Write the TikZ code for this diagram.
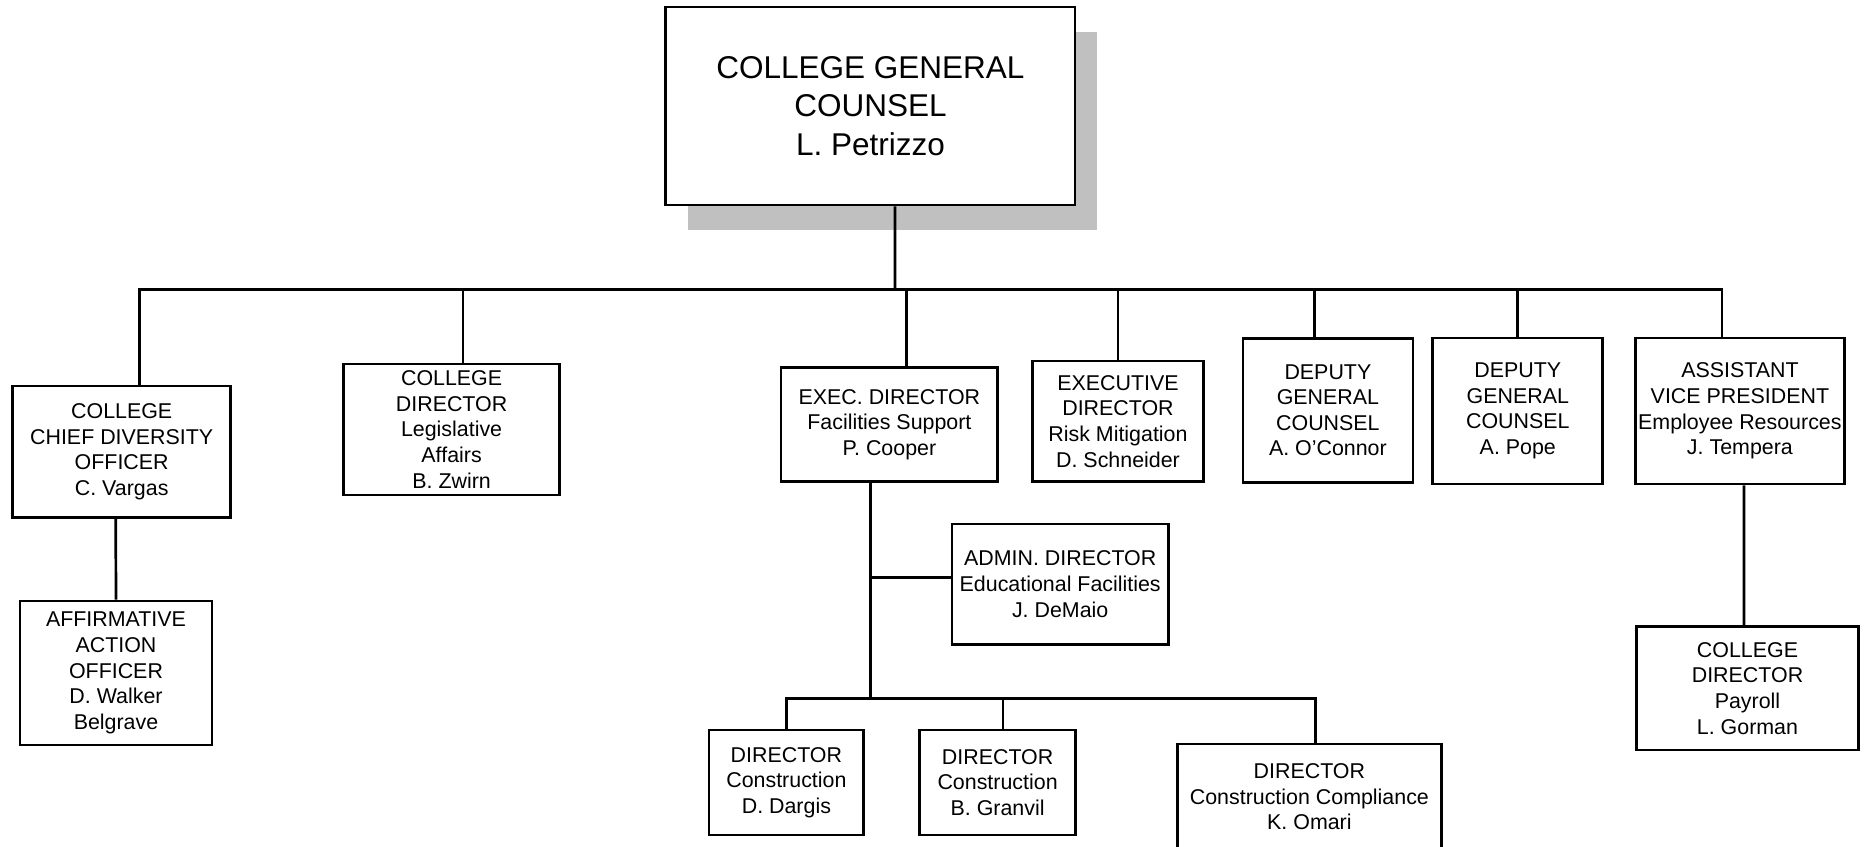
\documentclass[tikz,border=0pt]{standalone}
\usepackage{fontspec}
\setmainfont{Liberation Sans}
\usetikzlibrary{shadows}
\definecolor{shadowgray}{HTML}{C0C0C0}
\begin{document}
\begin{tikzpicture}[line width=2.7bp,
  post/.style={draw=black,fill=white,inner sep=0pt,align=center,
    font=\fontsize{21.4bp}{25.6bp}\selectfont},
  chief/.style={post,font=\fontsize{31.5bp}{38.5bp}\selectfont,
    drop shadow={shadow xshift=22bp,shadow yshift=-25bp,fill=shadowgray,opacity=1}},
]
\path [use as bounding box,fill=white] (0bp,0bp) rectangle (1866bp,-847bp);
%%
\node (gc) at (870.4bp,-106bp) [chief,minimum width=409.3bp,minimum height=198bp] {COLLEGE GENERAL\\COUNSEL\\L. Petrizzo};
  \node (ccdo) at (121.7bp,-451.7bp) [post,minimum width=218.2bp,minimum height=131.3bp] {COLLEGE\\CHIEF DIVERSITY\\OFFICER\\C. Vargas};
  \node (cdla) at (451.6bp,-429.5bp) [post,minimum width=215.8bp,minimum height=131bp] {COLLEGE\\DIRECTOR\\Legislative\\Affairs\\B. Zwirn};
  \node (edfs) at (889.4bp,-424.5bp) [post,minimum width=216.7bp,minimum height=114.4bp] {EXEC. DIRECTOR\\Facilities Support\\P. Cooper};
  \node (edrm) at (1118bp,-421.3bp) [post,minimum width=170.6bp,minimum height=120.7bp] {EXECUTIVE\\DIRECTOR\\Risk Mitigation\\D. Schneider};
  \node (dgc1) at (1327.9bp,-410.3bp) [post,minimum width=170bp,minimum height=144bp] {DEPUTY\\GENERAL\\COUNSEL\\A. O'Connor};
  \node (dgc2) at (1517.8bp,-411bp) [post,minimum width=170bp,minimum height=146bp] {DEPUTY\\GENERAL\\COUNSEL\\A. Pope};
  \node (avp) at (1739.9bp,-411bp) [post,minimum width=209.4bp,minimum height=146bp] {ASSISTANT\\VICE PRESIDENT\\Employee Resources\\J. Tempera};
  \node (aao) at (116bp,-673bp) [post,minimum width=192bp,minimum height=144bp] {AFFIRMATIVE\\ACTION\\OFFICER\\D. Walker\\Belgrave};
  \node (admin) at (1060.2bp,-584.2bp) [post,minimum width=216.3bp,minimum height=120.3bp] {ADMIN. DIRECTOR\\Educational Facilities\\J. DeMaio};
  \node (d1) at (786.4bp,-782.5bp) [post,minimum width=154.7bp,minimum height=105bp] {DIRECTOR\\Construction\\D. Dargis};
  \node (d2) at (997.6bp,-782.5bp) [post,minimum width=155.6bp,minimum height=105bp] {DIRECTOR\\Construction\\B. Granvil};
  \node (d3) at (1309.4bp,-797bp) [post,minimum width=263.7bp,minimum height=106bp] {DIRECTOR\\Construction Compliance\\K. Omari};
  \node (cdp) at (1747.5bp,-688.4bp) [post,minimum width=221.6bp,minimum height=123.3bp] {COLLEGE\\DIRECTOR\\Payroll\\L. Gorman};
%
\coordinate (bus) at (895bp,-289.5bp);
\coordinate (bus2) at (870.7bp,-698.3bp);
  \draw ([xshift=24.6bp]gc.south) -- (bus);
  \draw ([xshift=18bp]ccdo.north) |- (bus);
  \draw ([xshift=11.4bp]cdla.north) |- (bus);
  \draw ([xshift=17.3bp]edfs.north) |- (bus);
  \draw (edrm.north) |- (bus);
  \draw ([xshift=-13.1bp]dgc1.north) |- (bus);
  \draw (dgc2.north) |- (bus);
  \draw ([xshift=-18bp]avp.north) |- (bus);
  \draw ([xshift=-6bp]ccdo.south) -- (aao.north);
  \draw ([xshift=4.1bp]avp.south) -- ([xshift=-3.5bp]cdp.north);
  \draw ([xshift=-18.7bp]edfs.south) -- (bus2);
  \draw ([yshift=6.5bp]admin.west) -| (bus2);
  \draw (d1.north) |- (bus2);
  \draw ([xshift=5.4bp]d2.north) |- (bus2);
  \draw ([xshift=5.8bp]d3.north) |- (bus2);
%
\end{tikzpicture}
\end{document}
